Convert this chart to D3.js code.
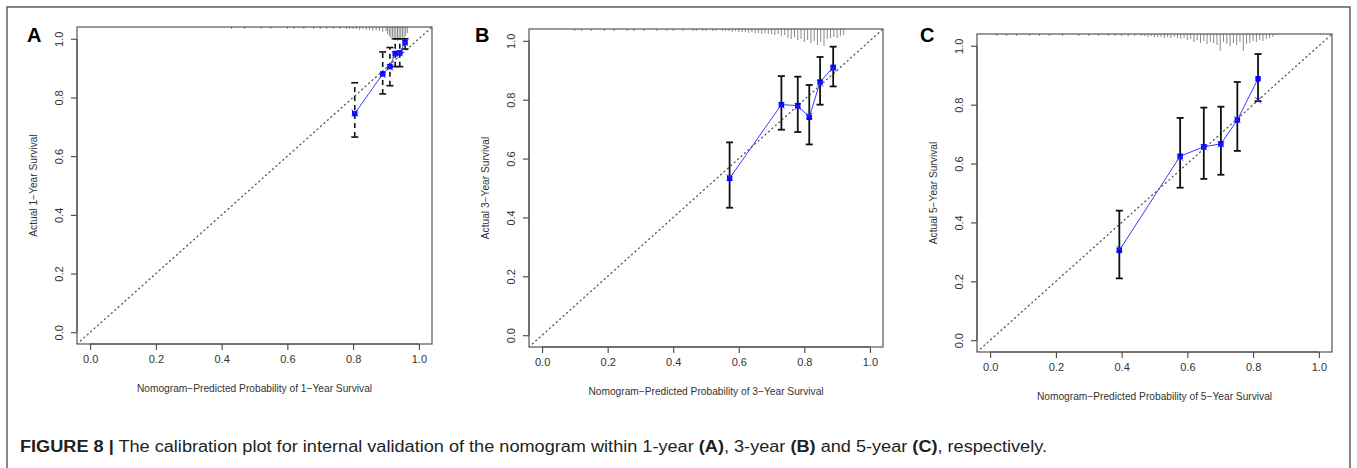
<!DOCTYPE html>
<html><head><meta charset="utf-8">
<script src="https://cdn.jsdelivr.net/npm/d3@7"></script>
<style>
html,body{margin:0;padding:0;background:#fff;}
text{font-family:"Liberation Sans",Arial,Helvetica,sans-serif;}
</style></head>
<body><svg id="chart" width="1357" height="468"></svg>
<script>
// ---------- DATA ----------
const panelLetters = ["A", "B", "C"];
const xTitles = ["Nomogram\u2212Predicted Probability of 1\u2212Year Survival",
                 "Nomogram\u2212Predicted Probability of 3\u2212Year Survival",
                 "Nomogram\u2212Predicted Probability of 5\u2212Year Survival"];
const yTitles = ["Actual 1\u2212Year Survival", "Actual 3\u2212Year Survival", "Actual 5\u2212Year Survival"];
const tickValues = [0.0, 0.2, 0.4, 0.6, 0.8, 1.0];
const tickLabels = ["0.0", "0.2", "0.4", "0.6", "0.8", "1.0"];

// 1-year
const predA = [0.805, 0.890, 0.912, 0.928, 0.942, 0.958];
const obsA = [0.745, 0.880, 0.905, 0.950, 0.952, 0.988];
const loA = [0.665, 0.812, 0.840, 0.905, 0.905, 0.965];
const hiA = [0.850, 0.955, 0.970, 1.000, 1.000, 1.000];
const corrA = [0.748, 0.876, 0.902, 0.946, 0.950, 0.985];
// 3-year
const predB = [0.572, 0.730, 0.780, 0.815, 0.848, 0.888];
const obsB = [0.533, 0.783, 0.780, 0.740, 0.860, 0.910];
const loB = [0.433, 0.698, 0.690, 0.648, 0.783, 0.845];
const hiB = [0.655, 0.880, 0.878, 0.850, 0.945, 0.980];
const corrB = [0.536, 0.780, 0.776, 0.745, 0.855, 0.905];
// 5-year
const predC = [0.393, 0.578, 0.650, 0.702, 0.752, 0.815];
const obsC = [0.305, 0.625, 0.657, 0.667, 0.748, 0.888];
const loC = [0.210, 0.518, 0.548, 0.562, 0.643, 0.812];
const hiC = [0.440, 0.755, 0.790, 0.793, 0.877, 0.972];
const corrC = [0.310, 0.620, 0.655, 0.665, 0.750, 0.815];

// rug (distribution of predicted probabilities): bin position and count
const rugAx = [0.43,0.47,0.52,0.55,0.60,0.62,0.65,0.68,0.70,0.72,0.74,0.76,0.78,0.79,0.80,
  0.81,0.82,0.83,0.84,0.85,0.86,0.87,0.88,0.89,0.90,
  0.905,0.91,0.915,0.92,0.925,0.93,0.935,0.94,0.945,0.95,0.955,0.96,0.965];
const rugAn = [1,1,1,1,1,1,1,1,1,1,1,1,1,1,1,
  1,2,1,2,2,3,2,3,4,3,
  6,8,10,9,12,11,13,10,12,9,11,8,5];
const rugBx = [0.10,0.12,0.15,0.19,0.22,0.26,0.28,0.31,0.35,0.38,0.40,0.43,0.46,0.47,0.49,0.50,0.52,0.53,0.55,
  0.56,0.57,0.58,0.59,0.60,0.61,0.62,0.63,0.64,0.65,0.66,0.67,0.68,0.69,0.70,0.71,0.72,0.73,0.74,
  0.75,0.76,0.77,0.78,0.79,0.80,0.81,0.82,0.83,0.84,0.85,0.86,0.87,0.88,0.89,0.90,0.91,0.92];
const rugBn = [1,1,1,1,1,1,1,1,1,1,1,1,1,1,1,1,1,1,1,
  1,1,2,1,2,2,2,3,2,3,3,4,3,4,4,5,4,6,5,
  8,9,7,10,9,12,10,13,11,15,12,16,9,8,7,8,6,5];
const rugCx = [0.02,0.05,0.08,0.12,0.15,0.18,0.22,0.27,0.30,0.33,0.36,0.38,0.40,0.42,0.44,0.46,
  0.47,0.48,0.49,0.50,0.51,0.52,0.53,0.54,0.55,0.56,0.57,0.58,0.59,0.60,0.61,0.62,0.63,0.64,0.65,
  0.66,0.67,0.68,0.69,0.70,0.71,0.72,0.73,0.74,0.75,0.76,0.77,0.78,0.79,0.80,0.81,0.82,0.83,0.84,0.85,0.86];
const rugCn = [1,1,1,1,1,1,1,1,1,1,1,1,1,1,1,1,
  1,2,1,2,2,2,3,2,3,2,3,4,3,5,4,7,5,8,6,
  9,7,8,10,16,7,9,11,8,10,7,16,9,8,6,7,5,6,4,3,2];

const captionBold = "FIGURE 8 |";
const captionParts = [
  {t: " The calibration plot for internal validation of the nomogram within 1-year ", b: false},
  {t: "(A)", b: true}, {t: ", 3-year ", b: false}, {t: "(B)", b: true},
  {t: " and 5-year ", b: false}, {t: "(C)", b: true}, {t: ", respectively.", b: false}
];

// ---------- LAYOUT ----------
const boxes = [
  {l: 77, t: 27, r: 432, b: 344, dashedErr: true},
  {l: 529, t: 29, r: 883, b: 347, dashedErr: false},
  {l: 977, t: 34, r: 1332, b: 352, dashedErr: false}
];
const letterPos = [{x: 27, y: 42}, {x: 475, y: 42}, {x: 920, y: 42}];
const panels = [
  {pred: predA, obs: obsA, lo: loA, hi: hiA, corr: corrA, rx: rugAx, rn: rugAn},
  {pred: predB, obs: obsB, lo: loB, hi: hiB, corr: corrB, rx: rugBx, rn: rugBn},
  {pred: predC, obs: obsC, lo: loC, hi: hiC, corr: corrC, rx: rugCx, rn: rugCn}
];

const svg = d3.select("#chart");
const axisCol = "#333";
const titleSize = 10.2;

// figure frame
svg.append("rect").attr("x", 7).attr("y", 7).attr("width", 1343).attr("height", 470)
  .attr("fill", "none").attr("stroke", "#444").attr("stroke-width", 1.3);

panels.forEach((p, i) => {
  const bx = boxes[i];
  const x = d3.scaleLinear().domain([-0.04, 1.04]).range([bx.l, bx.r]);
  const y = d3.scaleLinear().domain([-0.04, 1.04]).range([bx.b, bx.t]);
  const g = svg.append("g");
  const clipId = "clip" + i;
  svg.append("clipPath").attr("id", clipId).append("rect")
    .attr("x", bx.l).attr("y", bx.t).attr("width", bx.r - bx.l).attr("height", bx.b - bx.t);

  // diagonal reference
  g.append("line").attr("clip-path", `url(#${clipId})`)
    .attr("x1", x(-0.04)).attr("y1", y(-0.04)).attr("x2", x(1.04)).attr("y2", y(1.04))
    .attr("stroke", "#555").attr("stroke-width", 1.3).attr("stroke-dasharray", "1,3.6")
    .attr("stroke-linecap", "round");

  // rug histogram at top
  const rugLen = d3.scaleLinear().domain([0, 1]).range([0, 1]);
  g.selectAll(".rug").data(p.rx.map((v, k) => ({v, n: p.rn[k]}))).join("line")
    .attr("x1", d => x(d.v)).attr("x2", d => x(d.v))
    .attr("y1", bx.t).attr("y2", d => bx.t + 1 + rugLen(d.n))
    .attr("stroke", "#8a8a8a").attr("stroke-width", 1);

  // axes
  const xAxis = d3.axisBottom(x).tickValues(tickValues).tickFormat((d, k) => tickLabels[k]).tickSize(6).tickPadding(5);
  const gx = g.append("g").attr("transform", `translate(0,${bx.b})`).call(xAxis);
  gx.select(".domain").attr("d", `M${x(0)},0H${x(1)}`).attr("stroke", axisCol);
  gx.selectAll(".tick line").attr("stroke", axisCol);
  gx.selectAll(".tick text").attr("font-size", 11).attr("fill", axisCol)
    .attr("font-family", "Liberation Sans, Arial, sans-serif");

  const yAxis = d3.axisLeft(y).tickValues(tickValues).tickFormat((d, k) => tickLabels[k]).tickSize(6).tickPadding(0);
  const gy = g.append("g").attr("transform", `translate(${bx.l},0)`).call(yAxis);
  gy.select(".domain").attr("d", `M0,${y(0)}V${y(1)}`).attr("stroke", axisCol);
  gy.selectAll(".tick line").attr("stroke", axisCol);
  gy.selectAll(".tick text").attr("font-size", 11).attr("fill", axisCol)
    .attr("font-family", "Liberation Sans, Arial, sans-serif")
    .attr("x", null).attr("dy", null).attr("text-anchor", "middle")
    .attr("transform", "translate(-18,0) rotate(-90)").attr("dy", "0.35em");

  // box
  g.append("rect").attr("x", bx.l).attr("y", bx.t).attr("width", bx.r - bx.l).attr("height", bx.b - bx.t)
    .attr("fill", "none").attr("stroke", "#555").attr("stroke-width", 1.2);

  // titles
  g.append("text").attr("x", (bx.l + bx.r) / 2).attr("y", bx.b + 44).attr("dy", "0.35em")
    .attr("text-anchor", "middle").attr("font-size", titleSize).attr("fill", axisCol).text(xTitles[i]);
  g.append("text").attr("transform", `translate(${bx.l - 44},${(bx.t + bx.b) / 2}) rotate(-90)`)
    .attr("dy", "0.35em").attr("text-anchor", "middle").attr("font-size", titleSize).attr("fill", axisCol).text(yTitles[i]);

  // panel letter
  svg.append("text").attr("x", letterPos[i].x).attr("y", letterPos[i].y)
    .attr("font-size", 20).attr("font-weight", "bold").attr("fill", "#000").text(panelLetters[i]);

  // error bars
  const eb = g.append("g").attr("stroke", "#111").attr("stroke-width", bx.dashedErr ? 1.6 : 1.8);
  p.pred.forEach((v, k) => {
    eb.append("line").attr("x1", x(v)).attr("x2", x(v)).attr("y1", y(p.lo[k])).attr("y2", y(p.hi[k]))
      .attr("stroke-dasharray", bx.dashedErr ? "5,4" : null);
    [p.lo[k], p.hi[k]].forEach(e => {
      eb.append("line").attr("x1", x(v) - 3.5).attr("x2", x(v) + 3.5).attr("y1", y(e)).attr("y2", y(e));
    });
  });

  // observed line and points
  const line = d3.line().x(d => x(d[0])).y(d => y(d[1]));
  g.append("path").attr("d", line(p.pred.map((v, k) => [v, p.obs[k]])))
    .attr("fill", "none").attr("stroke", "#3b3bff").attr("stroke-width", 1);
  g.selectAll(".pt").data(p.pred.map((v, k) => [v, p.obs[k]])).join("rect")
    .attr("x", d => x(d[0]) - 2.7).attr("y", d => y(d[1]) - 2.7).attr("width", 5.4).attr("height", 5.4)
    .attr("fill", "#0000ff");
  // bias-corrected 'x' marks
  g.selectAll(".cx").data(p.pred.map((v, k) => [v, p.corr[k]])).join("path")
    .attr("d", d => { const cx = x(d[0]), cy = y(d[1]); return `M${cx-3},${cy-3}L${cx+3},${cy+3}M${cx-3},${cy+3}L${cx+3},${cy-3}`; })
    .attr("stroke", "#2a2aff").attr("stroke-width", 1).attr("fill", "none");
});

// caption: glyphs stretched horizontally to the reference's caption width
const capSize = 16;
const cap = svg.append("text").attr("x", 20).attr("y", 452).attr("font-size", capSize).attr("fill", "#231f20");
cap.append("tspan").attr("font-weight", "bold").text(captionBold);
captionParts.forEach(c => cap.append("tspan").attr("font-weight", c.b ? "bold" : "normal").text(c.t));
const targetW = 1027;
const w0 = cap.node().getComputedTextLength();
if (w0 > 0) cap.attr("textLength", targetW).attr("lengthAdjust", "spacingAndGlyphs");
</script></body></html>
